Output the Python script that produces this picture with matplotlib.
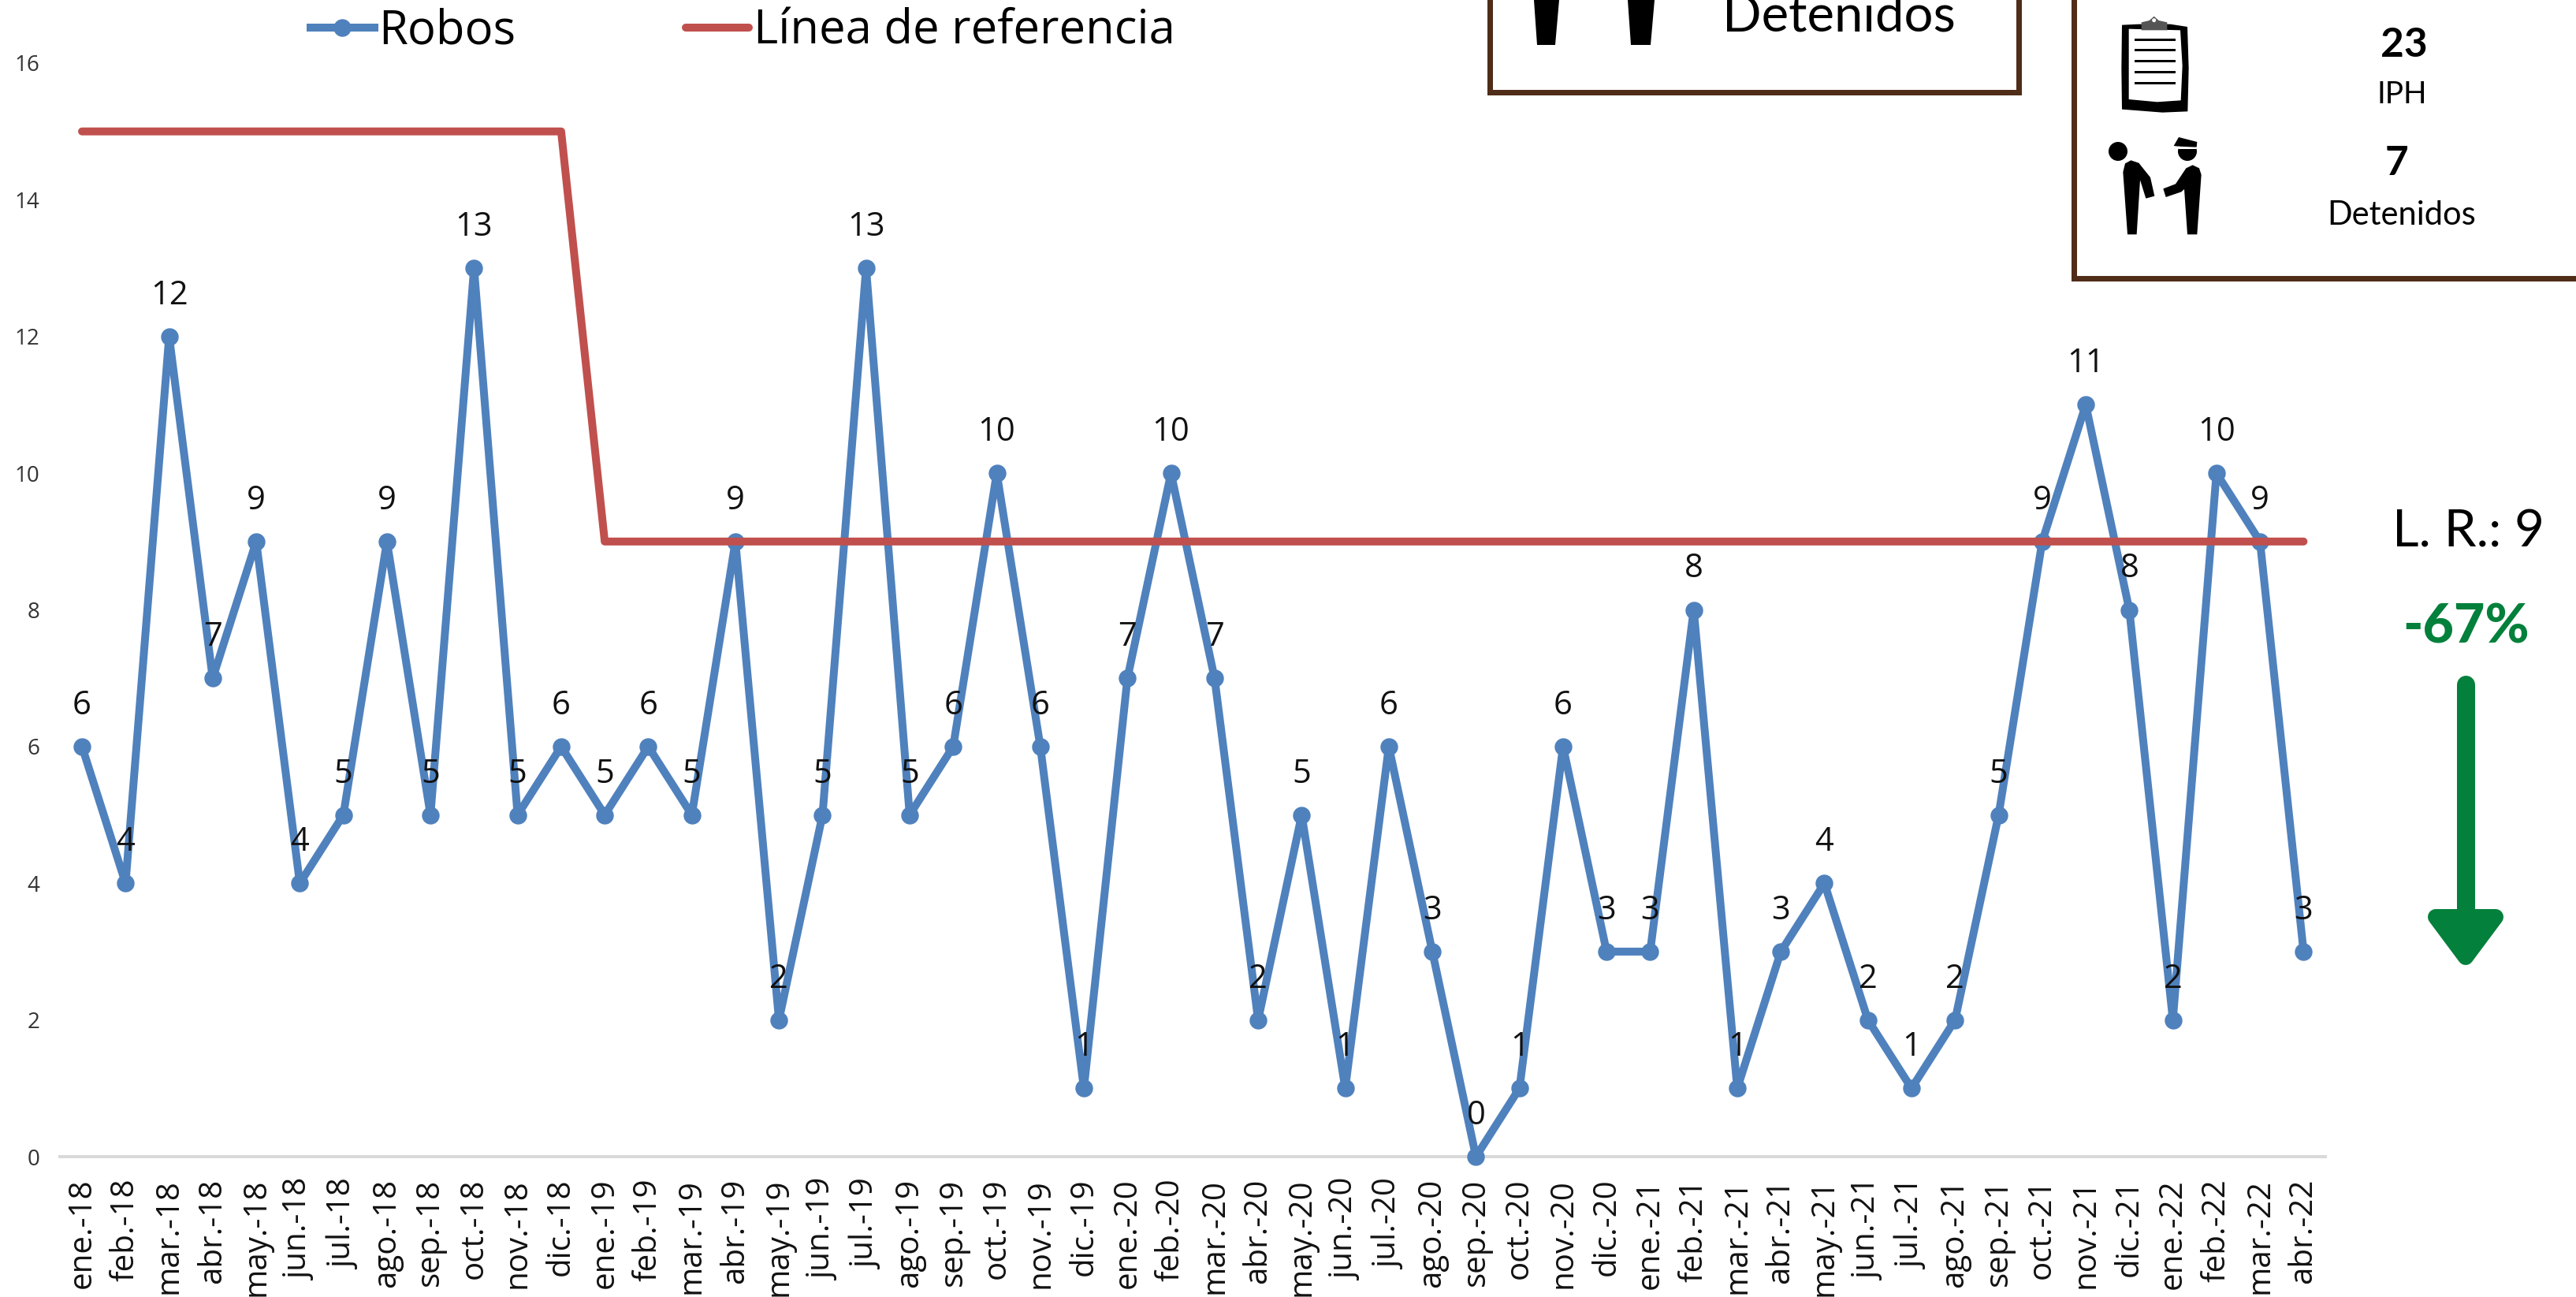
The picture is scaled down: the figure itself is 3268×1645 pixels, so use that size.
import matplotlib
matplotlib.use("Agg")
import matplotlib.pyplot as plt
from matplotlib.patches import Polygon, Ellipse, Rectangle, FancyBboxPatch
from matplotlib.lines import Line2D

months = ["ene.-18","feb.-18","mar.-18","abr.-18","may.-18","jun.-18","jul.-18","ago.-18","sep.-18","oct.-18","nov.-18","dic.-18",
          "ene.-19","feb.-19","mar.-19","abr.-19","may.-19","jun.-19","jul.-19","ago.-19","sep.-19","oct.-19","nov.-19","dic.-19",
          "ene.-20","feb.-20","mar.-20","abr.-20","may.-20","jun.-20","jul.-20","ago.-20","sep.-20","oct.-20","nov.-20","dic.-20",
          "ene.-21","feb.-21","mar.-21","abr.-21","may.-21","jun.-21","jul.-21","ago.-21","sep.-21","oct.-21","nov.-21","dic.-21",
          "ene.-22","feb.-22","mar.-22","abr.-22"]
robos = [6,4,12,7,9,4,5,9,5,13,5,6,
         5,6,5,9,2,5,13,5,6,10,6,1,
         7,10,7,2,5,1,6,3,0,1,6,3,
         3,8,1,3,4,2,1,2,5,9,11,8,
         2,10,9,3]
referencia = [15]*12 + [9]*40
yticks = [0,2,4,6,8,10,12,14,16]

W, H = 3268, 1645
BLUE, RED, GREEN, BROWN = "#4F81BD", "#C0504D", "#03803B", "#4F2D18"
plt.rcParams["font.family"] = ["Open Sans", "DejaVu Sans"]
px = 72/100

fig = plt.figure(figsize=(W/100, H/100), dpi=100, facecolor="white")
L, R, T, B = 76.4, 2950, 80, 1467
ax = fig.add_axes([L/W, 1-B/H, (R-L)/W, (B-T)/H])
x = list(range(len(months)))
l1, = ax.plot(x, robos, color=BLUE, lw=10*px, marker="o", ms=21*px, label="Robos", zorder=3,
              solid_joinstyle="round", clip_on=False)
l2, = ax.plot(x, referencia, color=RED, lw=10*px, label="Línea de referencia", zorder=4,
              solid_joinstyle="round", solid_capstyle="round")
for i, v in zip(x, robos):
    ax.annotate(str(v), (i, v), xytext=(0, 52*px), textcoords="offset points",
                ha="center", va="center", fontsize=30, color="#111111", zorder=5)
ax.set_xlim(-0.5, len(months)-0.5)
ax.set_ylim(0, 16)
ax.set_yticks(yticks)
ax.set_yticklabels([str(t) for t in yticks], fontsize=20, color="#333333")
ax.set_xticks(x)
ax.set_xticklabels(months, rotation=90, fontsize=29, color="#111111", ha="center", va="top")
ax.tick_params(axis="x", length=0, pad=20)
ax.tick_params(axis="y", length=0, pad=19)
for s in ("top", "right", "left"):
    ax.spines[s].set_visible(False)
ax.spines["bottom"].set_color("#D9D9D9")
ax.spines["bottom"].set_linewidth(4*px)
ax.patch.set_alpha(0)

fig.legend(handles=[l1, l2], loc="upper left", bbox_to_anchor=(394/W, 1-10/H), ncol=2, frameon=False,
           fontsize=43, handlelength=1.35, handletextpad=0.1, columnspacing=3.6, numpoints=1, borderaxespad=0, borderpad=0)

ov = fig.add_axes([0, 0, 1, 1], zorder=10)
ov.set_xlim(0, W); ov.set_ylim(H, 0); ov.axis("off")

def icon(pts):
    return [(2660 + a/3, 10 + b/3) for a, b in pts]

# Framed panels
ov.add_patch(Rectangle((1890.5, -20), 671, 137, fill=False, ec=BROWN, lw=7*px))
ov.add_patch(Rectangle((2631.5, -20), 700, 373, fill=False, ec=BROWN, lw=7*px))

# Legs of the figures cut off by the top edge
for xs in ((1946, 1978, 1973, 1950), (2065, 2099, 2094, 2069)):
    ov.add_patch(Polygon([(xs[0], 0), (xs[1], 0), (xs[2], 57), (xs[3], 57)], fc="black", ec="none"))

# Clipboard icon
ov.add_patch(Polygon(icon([(96,65),(160,62),(280,62),(345,72),(350,230),(346,394),(250,398),(96,386),(94,230)]), fc="black", ec="none"))
ov.add_patch(Polygon(icon([(122,80),(318,85),(326,220),(320,352),(230,358),(122,348)]), fc="white", ec="none"))
ov.add_patch(Polygon(icon([(170,85),(170,55),(200,48),(218,32),(236,48),(268,55),(268,85)]), fc="#555555", ec="none"))
ov.add_patch(Ellipse((2660+218/3, 10+47/3), 5, 5, fc="white", ec="none"))
for yy in (122, 160, 202, 244, 286):
    ov.add_patch(Polygon(icon([(143,yy-4.5),(300,yy-4.5),(300,yy+4.5),(143,yy+4.5)]), fc="black", ec="none"))

# Arrest icon
ov.add_patch(Ellipse((2687, 192), 24, 24, fc="black", ec="none"))
ov.add_patch(Ellipse((2775, 192), 24, 24, fc="black", ec="none"))
ov.add_patch(Polygon(icon([(293,525),(312,492),(382,510),(380,530),(310,527)]), fc="black", ec="none"))
ov.add_patch(Polygon(icon([(310,527),(380,530),(380,537),(310,537)]), fc="white", ec="none"))
ov.add_patch(Polygon(icon([(117,862),(152,862),(165,655),(187,725),(220,716),(204,645),(160,590),(130,580),(108,592),(100,625)]), fc="black", ec="none"))
ov.add_patch(Polygon(icon([(345,862),(382,862),(398,635),(390,610),(365,598),(340,610),(300,670),(253,688),(263,720),(322,700),(333,690)]), fc="black", ec="none"))

# Panel text
TF = ["Lato", "DejaVu Sans"]
ov.text(2333, 40, "Detenidos", fontsize=47, family=TF, ha="center", va="baseline", color="black")
ov.text(3050, 57, "23", fontsize=37, family=TF, weight="bold", ha="center", va="center", color="black")
ov.text(3047, 120, "IPH", fontsize=28, family=TF, ha="center", va="center", color="black")
ov.text(3041, 208, "7", fontsize=37, family=TF, weight="bold", ha="center", va="center", color="black")
ov.text(3047, 273, "Detenidos", fontsize=30, family=TF, ha="center", va="center", color="black")

# Right annotation
ov.text(3132, 693, "L. R.: 9", fontsize=47, family=TF, ha="center", va="baseline", color="black")
ov.text(3129, 816, "-67%", fontsize=49, family=TF, weight="black", ha="center", va="baseline", color=GREEN)
ov.add_line(Line2D([3128.5, 3128.5], [868, 1170], color=GREEN, lw=23*px, solid_capstyle="round"))
ov.add_patch(Polygon([(3090, 1163), (3166, 1163), (3128, 1214)], fc=GREEN, ec=GREEN, lw=20*px, joinstyle="round"))

fig.savefig("out.png", dpi=100, facecolor="white")
